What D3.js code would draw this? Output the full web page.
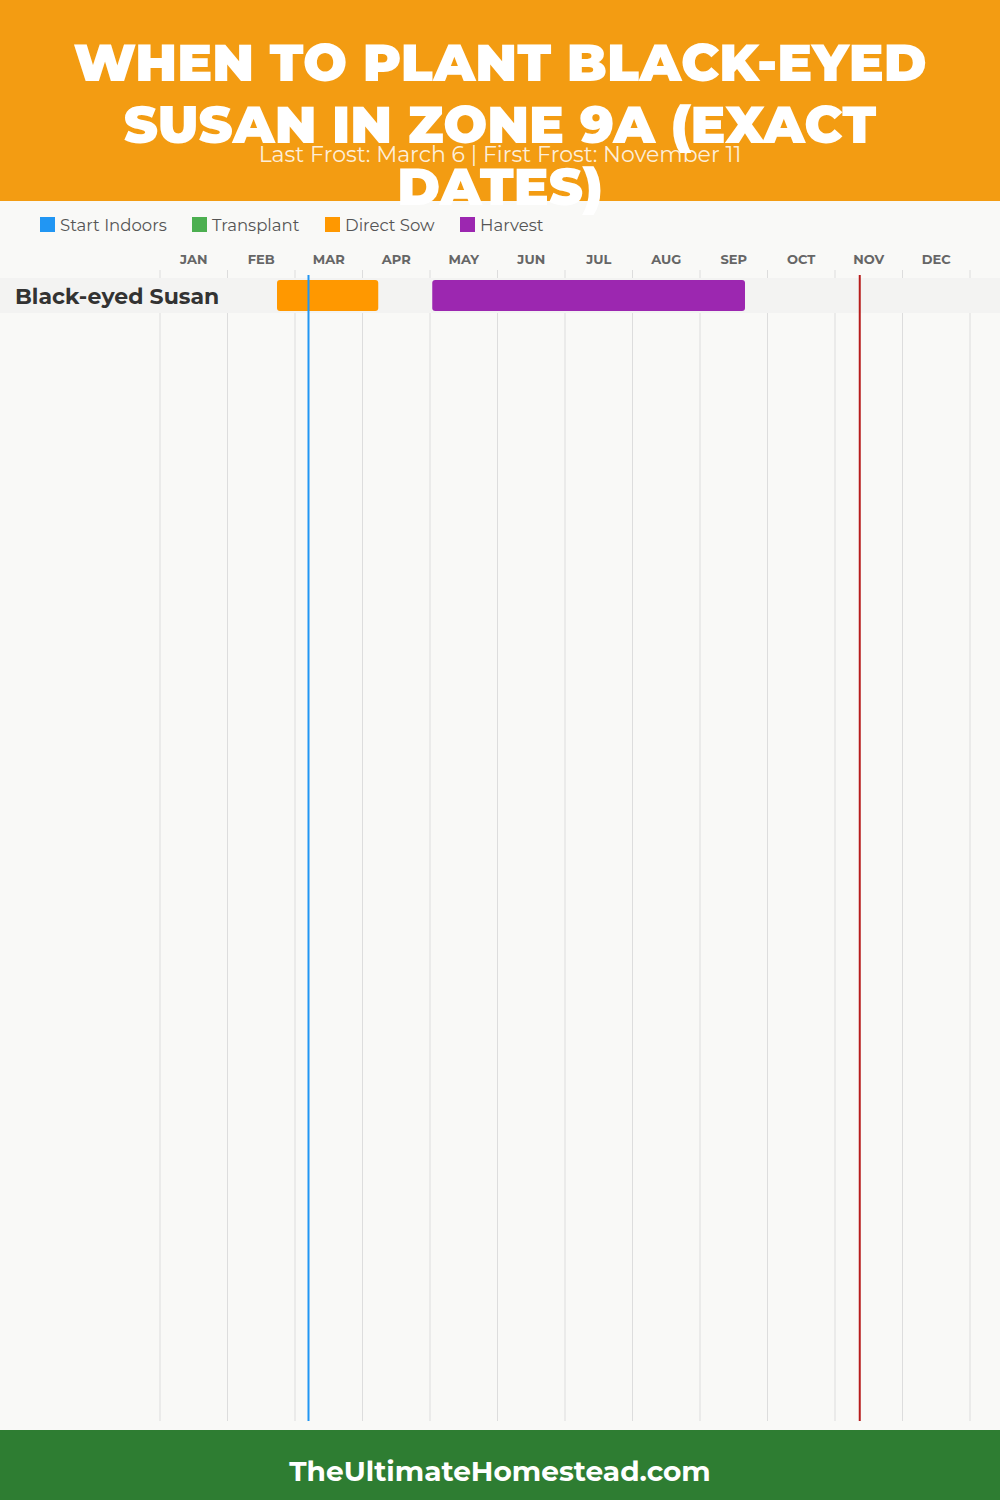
<!DOCTYPE html>
<html>
  <head>
    <meta http-equiv="Content-Type" content="text/html;charset=utf-8"/>
    <title>Black-eyed Susan Zone 9A</title>
    <script src="https://d3js.org/d3.v7.min.js"></script>
  </head>
  <body>
    <div id="content"></div>
    <style>
      body { margin: 0; background: #f9f9f7; }
      #content { position: relative; }
      text { font-family: Montserrat, Inter, "Open Sans", sans-serif; }
    </style>
    <script type="text/javascript">

        // chart data
        const titleLines = ['WHEN TO PLANT BLACK-EYED', 'SUSAN IN ZONE 9A (EXACT', 'DATES)']
        const subtitle = 'Last Frost: March 6 | First Frost: November 11'
        const months = ['JAN', 'FEB', 'MAR', 'APR', 'MAY', 'JUN', 'JUL', 'AUG', 'SEP', 'OCT', 'NOV', 'DEC']
        const legendItems = ['Start Indoors', 'Transplant', 'Direct Sow', 'Harvest']
        const legendColors = ['#2196f3', '#4caf50', '#ff9800', '#9c27b0']
        const crops = ['Black-eyed Susan']
        // [crop, activity, start, end] as month index + day
        const periods = [
            ['Black-eyed Susan', 'Direct Sow', [1, 22], [3, 7]],
            ['Black-eyed Susan', 'Harvest', [4, 1], [8, 20]]
        ]
        const frostDates = [
            { label: 'Last Frost', date: [2, 6], color: '#2196f3' },
            { label: 'First Frost', date: [10, 11], color: '#b71c1c' }
        ]
        const footer = 'TheUltimateHomestead.com'

        const width = 1000,
            height = 1500

        const svg = d3.select('#content').append('svg')
            .attr('width', width)
            .attr('height', height)

        svg.append('rect')
            .attr('width', width).attr('height', height)
            .attr('fill', '#f9f9f7')

        // header
        svg.append('rect')
            .attr('width', width).attr('height', 201)
            .attr('fill', '#f39c12')

        const colorOf = d3.scaleOrdinal().domain(legendItems).range(legendColors)

        // months -> x, day fraction uses 30-day months
        const x = d3.scaleLinear().domain([0, 12]).range([160, 970])
        const toX = md => x(md[0] + md[1] / 30)

        const y = d3.scaleBand().domain(crops).range([278, 313])

        // gridlines
        svg.append('g')
            .selectAll('line')
            .data(d3.range(13))
            .enter()
            .append('line')
            .attr('x1', d => x(d)).attr('x2', d => x(d))
            .attr('y1', 270).attr('y2', 1421)
            .attr('stroke', '#dddddd')
            .attr('stroke-width', 1)

        // month labels
        svg.append('g')
            .selectAll('text')
            .data(months)
            .enter()
            .append('text')
            .attr('x', (d, i) => x(i + 0.5))
            .attr('y', 264)
            .attr('text-anchor', 'middle')
            .attr('font-size', 13)
            .attr('font-weight', 700)
            .attr('fill', '#666')
            .text(d => d)

        // row band + label
        const rows = svg.append('g')
            .selectAll('g')
            .data(crops)
            .enter()
            .append('g')

        rows.append('rect')
            .attr('x', 0).attr('width', width)
            .attr('y', d => y(d)).attr('height', y.bandwidth())
            .attr('fill', '#f3f3f2')

        rows.append('text')
            .attr('x', 15)
            .attr('y', d => y(d) + y.bandwidth() / 2 + 8)
            .attr('font-size', 22)
            .attr('font-weight', 700)
            .attr('fill', '#333')
            .text(d => d)

        // bars
        svg.append('g')
            .selectAll('rect')
            .data(periods)
            .enter()
            .append('rect')
            .attr('x', d => toX(d[2]))
            .attr('width', d => toX(d[3]) - toX(d[2]))
            .attr('y', d => y(d[0]) + 2)
            .attr('height', y.bandwidth() - 4)
            .attr('rx', 3)
            .attr('fill', d => colorOf(d[1]))

        // frost lines
        svg.append('g')
            .selectAll('line')
            .data(frostDates)
            .enter()
            .append('line')
            .attr('x1', d => toX(d.date)).attr('x2', d => toX(d.date))
            .attr('y1', 275).attr('y2', 1421)
            .attr('stroke', d => d.color)
            .attr('stroke-width', 2)

        // legend
        const legendX = [40, 192, 325, 460]
        const legend = svg.append('g')
            .selectAll('g')
            .data(legendItems)
            .enter()
            .append('g')
            .attr('transform', (d, i) => `translate(${legendX[i]},217)`)
        legend.append('rect')
            .attr('width', 15).attr('height', 15)
            .attr('fill', d => colorOf(d))
        legend.append('text')
            .attr('x', 20).attr('y', 13.5)
            .attr('font-size', 16.5)
            .attr('fill', '#555')
            .text(d => d)

        // title drawn after legend so the overflow line sits on top
        svg.append('g')
            .selectAll('text')
            .data(titleLines)
            .enter()
            .append('text')
            .attr('x', width / 2)
            .attr('y', (d, i) => 81 + i * 62)
            .attr('text-anchor', 'middle')
            .attr('font-size', 52)
            .attr('font-weight', 900)
            .attr('fill', '#fff')
            .text(d => d)

        svg.append('text')
            .attr('x', width / 2)
            .attr('y', 162)
            .attr('text-anchor', 'middle')
            .attr('font-size', 22)
            .attr('fill', '#fff')
            .attr('fill-opacity', 0.85)
            .text(subtitle)

        // footer
        svg.append('rect')
            .attr('y', 1430).attr('width', width).attr('height', 70)
            .attr('fill', '#2e7d32')
        svg.append('text')
            .attr('x', width / 2).attr('y', 1481)
            .attr('text-anchor', 'middle')
            .attr('font-size', 28)
            .attr('font-weight', 700)
            .attr('fill', '#fff')
            .text(footer)

    </script>
  </body>
</html>
